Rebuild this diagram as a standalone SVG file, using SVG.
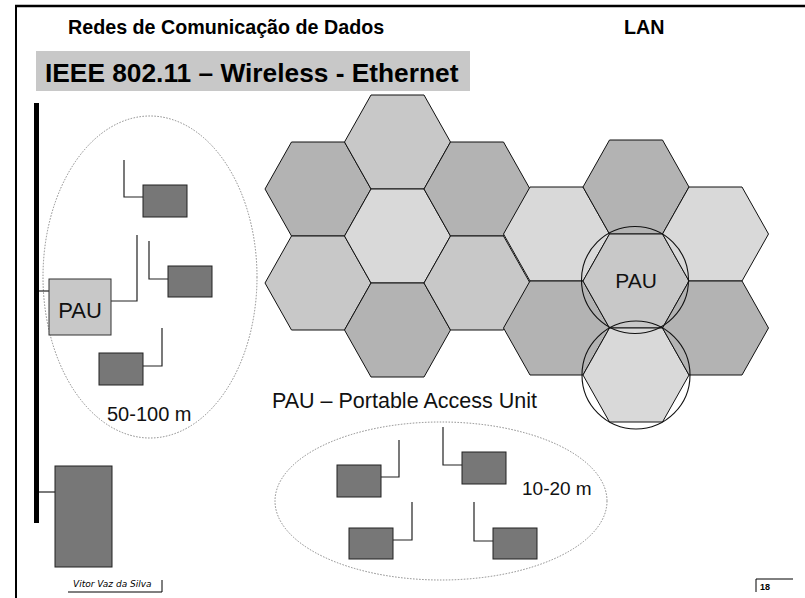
<svg xmlns="http://www.w3.org/2000/svg" xmlns:xlink="http://www.w3.org/1999/xlink" width="805" height="598" viewBox="0 0 805 598">
<style>
  .hdr{font-family:"Liberation Sans",Arial,sans-serif;font-weight:bold;font-size:19.7px;fill:#000}
  .ttl{font-family:"Liberation Sans",Arial,sans-serif;font-weight:bold;font-size:26.3px;fill:#000}
  .lbl{font-family:"Liberation Sans",Arial,sans-serif;font-size:21px;fill:#111}
  .sta{fill:#777777;stroke:#222;stroke-width:1}
  .pau{fill:#c8c8c8;stroke:#333;stroke-width:1}
  .hx{stroke:#111;stroke-width:1}
  .dk{fill:#b3b3b3}
  .md{fill:#c8c8c8}
  .lt{fill:#d9d9d9}
  .cell{fill:none;stroke:#111;stroke-width:1.1}
  .zone{fill:none;stroke:#888;stroke-width:1;stroke-dasharray:1.5,1.5}
  .wire{fill:none;stroke:#222;stroke-width:1.2}
</style>
<defs>
  <polygon id="hex" points="-53,0 -26.5,-47 26.5,-47 53,0 26.5,47 -26.5,47"/>
</defs>
<rect x="0" y="0" width="805" height="598" fill="#fff"/>

<g id="frame">
  <line x1="15" y1="6" x2="805" y2="6" stroke="#000" stroke-width="2.5"/>
  <line x1="16" y1="5" x2="16" y2="598" stroke="#000" stroke-width="2"/>
</g>

<g id="header">
  <text class="hdr" x="68" y="34">Redes de Comunicação de Dados</text>
  <text class="hdr" x="624" y="34">LAN</text>
</g>

<g id="title">
  <rect x="36" y="51" width="434" height="40" fill="#c8c8c8"/>
  <text class="ttl" x="45" y="82">IEEE 802.11 – Wireless - Ethernet</text>
</g>

<g id="backbone">
  <rect x="34" y="103" width="5" height="420" fill="#000"/>
</g>

<g id="zone-large">
  <ellipse class="zone" cx="150" cy="277" rx="107" ry="161"/>
  <text class="lbl" x="107" y="421" style="font-size:20px">50-100 m</text>
</g>

<g id="zone-small">
  <ellipse class="zone" cx="441" cy="501" rx="166" ry="79"/>
  <text class="lbl" x="522" y="495" style="font-size:19px">10-20 m</text>
</g>

<g id="connectors">
  <polyline class="wire" points="39,291 49,291"/>
  <polyline class="wire" points="111,301 137,301 137,235"/>
  <polyline class="wire" points="143,197 124,197 124,160"/>
  <polyline class="wire" points="168,279 149,279 149,241"/>
  <polyline class="wire" points="143,366 162,366 162,328"/>
  <polyline class="wire" points="381,477 399,477 399,440"/>
  <polyline class="wire" points="462,465 443,465 443,427"/>
  <polyline class="wire" points="393,540 412,540 412,502"/>
  <polyline class="wire" points="493,541 474,541 474,502"/>
  <polyline class="wire" points="39,492 55,492"/>
</g>

<g id="pau-left">
  <rect class="pau" x="49" y="279" width="62" height="56"/>
  <text class="lbl" x="80" y="318" text-anchor="middle" style="font-size:22px">PAU</text>
</g>

<g id="station-1"><rect class="sta" x="143" y="185" width="44" height="32"/></g>
<g id="station-2"><rect class="sta" x="168" y="266" width="44" height="31"/></g>
<g id="station-3"><rect class="sta" x="99" y="353" width="44" height="32"/></g>
<g id="station-4"><rect class="sta" x="337" y="465" width="44" height="32"/></g>
<g id="station-5"><rect class="sta" x="462" y="452" width="44" height="32"/></g>
<g id="station-6"><rect class="sta" x="349" y="528" width="44" height="31"/></g>
<g id="station-7"><rect class="sta" x="493" y="528" width="44" height="31"/></g>
<g id="station-server"><rect class="sta" x="55" y="466" width="57" height="101"/></g>

<g id="cells">
  <use xlink:href="#hex" href="#hex" x="318" y="189" class="hx dk"/>
  <use xlink:href="#hex" href="#hex" x="318" y="283" class="hx md"/>
  <use xlink:href="#hex" href="#hex" x="397.5" y="142" class="hx md"/>
  <use xlink:href="#hex" href="#hex" x="397.5" y="236" class="hx lt"/>
  <use xlink:href="#hex" href="#hex" x="397.5" y="330" class="hx dk"/>
  <use xlink:href="#hex" href="#hex" x="477" y="189" class="hx dk"/>
  <use xlink:href="#hex" href="#hex" x="477" y="283" class="hx md"/>
  <use xlink:href="#hex" href="#hex" x="556.5" y="234" class="hx lt"/>
  <use xlink:href="#hex" href="#hex" x="556.5" y="328" class="hx dk"/>
  <use xlink:href="#hex" href="#hex" x="636" y="187" class="hx dk"/>
  <use xlink:href="#hex" href="#hex" x="636" y="281" class="hx md"/>
  <use xlink:href="#hex" href="#hex" x="636" y="375" class="hx lt"/>
  <use xlink:href="#hex" href="#hex" x="715.5" y="234" class="hx lt"/>
  <use xlink:href="#hex" href="#hex" x="715.5" y="328" class="hx dk"/>
  <circle class="cell" cx="635" cy="280" r="53.5"/>
  <circle class="cell" cx="636" cy="375" r="54"/>
  <text class="lbl" x="636" y="288" text-anchor="middle">PAU</text>
</g>

<g id="legend">
  <text class="lbl" x="272" y="408" style="font-size:21.5px">PAU – Portable Access Unit</text>
</g>

<g id="footer">
  <text x="73" y="587" font-family="'DejaVu Sans',sans-serif" font-style="italic" font-size="9">Vitor Vaz da Silva</text>
  <polyline points="68,592 162,592 162,580" fill="none" stroke="#000" stroke-width="1"/>
  <polyline points="756,592 756,579 793,579" fill="none" stroke="#000" stroke-width="1"/>
  <text x="760" y="590" font-family="'Liberation Sans',Arial,sans-serif" font-weight="bold" font-size="9">18</text>
</g>
</svg>
